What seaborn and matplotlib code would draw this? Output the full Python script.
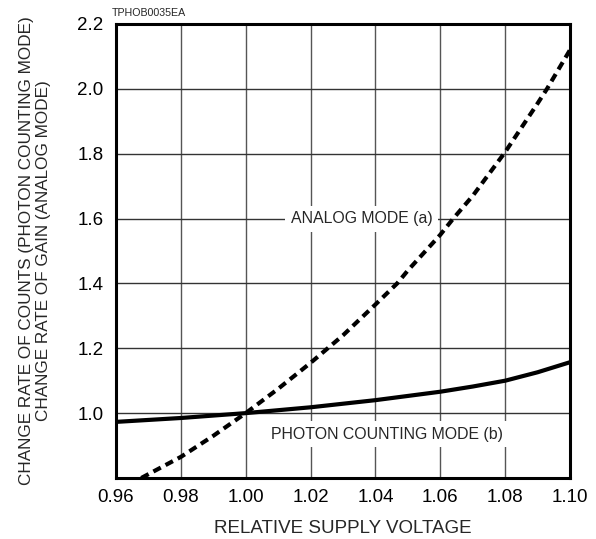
import matplotlib
matplotlib.use("Agg")
import matplotlib.pyplot as plt
import seaborn as sns
import pandas as pd

# Data
analog_x = [0.9678, 0.98, 0.99, 1.00, 1.01, 1.02, 1.03, 1.04, 1.0467, 1.05, 1.06, 1.064, 1.07, 1.08, 1.09, 1.0929, 1.10]
analog_y = [0.80, 0.865, 0.93, 1.00, 1.075, 1.155, 1.24, 1.335, 1.40, 1.44, 1.55, 1.60, 1.67, 1.805, 1.955, 2.00, 2.12]
photon_x = [0.96, 0.98, 1.00, 1.02, 1.04, 1.06, 1.07, 1.08, 1.09, 1.10]
photon_y = [0.973, 0.985, 1.00, 1.018, 1.040, 1.066, 1.082, 1.10, 1.126, 1.157]

x_ticks = [0.96, 0.98, 1.00, 1.02, 1.04, 1.06, 1.08, 1.10]
y_ticks = [1.0, 1.2, 1.4, 1.6, 1.8, 2.0, 2.2]

sns.set_style("white")
plt.rcParams['font.family'] = ['Liberation Sans', 'DejaVu Sans']

fig = plt.figure(figsize=(5.96, 5.39), dpi=100)
ax = fig.add_axes([0.1946, 0.1132, 0.7618, 0.8423])

df_a = pd.DataFrame({"x": analog_x, "y": analog_y})
df_p = pd.DataFrame({"x": photon_x, "y": photon_y})

ax.set_xlim(0.96, 1.10)
ax.set_ylim(0.8, 2.2)

# grid
for xv in x_ticks[1:-1]:
    ax.axvline(xv, color="#555555", lw=1.0, zorder=1)
for yv in y_ticks[:-1]:
    ax.axhline(yv, color="#333333", lw=1.0, zorder=1)

sns.lineplot(data=df_p, x="x", y="y", ax=ax, color="black", lw=3.0,
             estimator=None, sort=False, zorder=3)
sns.lineplot(data=df_a, x="x", y="y", ax=ax, color="black", lw=3.0,
             estimator=None, sort=False, zorder=3)
ax.lines[-1].set_dashes([2.0, 1.3])
ax.lines[-1].set_dash_capstyle("butt")

ax.text(1.0357, 1.6, "ANALOG MODE (a)", ha="center", va="center", fontsize=11.4,
        zorder=2, bbox=dict(facecolor="white", edgecolor="none", pad=4))
ax.text(1.0437, 0.935, "PHOTON COUNTING MODE (b)", ha="center", va="center", fontsize=11.4,
        zorder=2, bbox=dict(facecolor="white", edgecolor="none", pad=4))

ax.set_xticks(x_ticks)
ax.set_xticklabels([f"{v:.2f}" for v in x_ticks])
ax.set_yticks(y_ticks)
ax.set_yticklabels([f"{v:.1f}" for v in y_ticks])
ax.tick_params(axis="both", length=0, labelsize=13.5, colors="black")
ax.tick_params(axis="y", pad=9)
ax.tick_params(axis="x", pad=8)

for s in ax.spines.values():
    s.set_visible(True)
    s.set_color("black")
    s.set_linewidth(2.2)
    s.set_zorder(4)

ax.set_xlabel("RELATIVE SUPPLY VOLTAGE", fontsize=13.5, labelpad=10)
ax.set_ylabel("CHANGE RATE OF COUNTS (PHOTON COUNTING MODE)\nCHANGE RATE OF GAIN (ANALOG MODE)",
              fontsize=12.3, labelpad=19, linespacing=1.12)

fig.text(112 / 596, 1 - 13 / 539, "TPHOB0035EA", fontsize=7.7, ha="left", va="center")

fig.savefig("out.png", dpi=100)
